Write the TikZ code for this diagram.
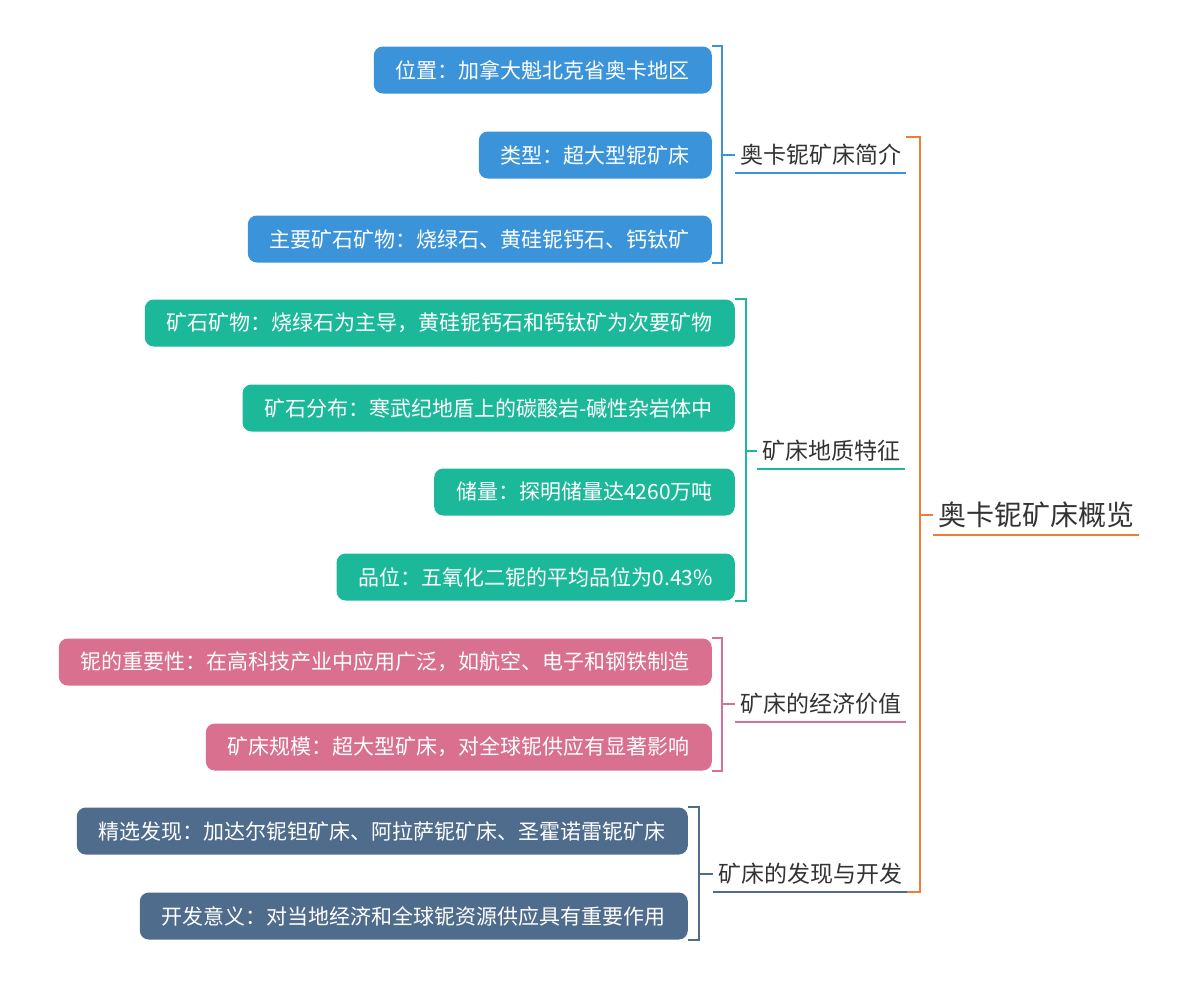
\documentclass[tikz,border=0pt]{standalone}
\usepackage{fontspec}
\setmainfont{Noto Sans CJK SC}
\usepackage{tikz}
\usetikzlibrary{positioning}

\definecolor{introblue}{HTML}{3B94DA}
\definecolor{geoteal}{HTML}{1BB99A}
\definecolor{econpink}{HTML}{D9708F}
\definecolor{devslate}{HTML}{4F6C8C}
\definecolor{rootorange}{HTML}{EC7E3A}

\begin{document}
\begin{tikzpicture}[
                x=1pt, y=-1pt,
                leaf/.style={rounded corners=9pt, text=white, anchor=east,
                    font=\fontsize{21}{24}\selectfont,
                    inner xsep=22pt, inner ysep=0pt, minimum height=47pt},
                topic/.style={text=black!80, anchor=west,
                    font=\fontsize{23}{26}\selectfont,
                    inner xsep=5pt, inner ysep=0pt, minimum height=36pt},
                brace/.style={line width=2pt}
            ]
                \useasboundingbox (0,0) rectangle (1200,986);

                \node[leaf, fill=introblue] (a1) at (712,70) {位置：加拿大魁北克省奥卡地区};
                \node[leaf, fill=introblue] (a2) at (712,155) {类型：超大型铌矿床};
                \node[leaf, fill=introblue] (a3) at (712,239) {主要矿石矿物：烧绿石、黄硅铌钙石、钙钛矿};

                \node[leaf, fill=geoteal] (b1) at (735,323) {矿石矿物：烧绿石为主导，黄硅铌钙石和钙钛矿为次要矿物};
                \node[leaf, fill=geoteal] (b2) at (735,408) {矿石分布：寒武纪地盾上的碳酸岩-碱性杂岩体中};
                \node[leaf, fill=geoteal] (b3) at (735,492) {储量：探明储量达4260万吨};
                \node[leaf, fill=geoteal] (b4) at (735,577) {品位：五氧化二铌的平均品位为0.43\%};

                \node[leaf, fill=econpink] (c1) at (712,662) {铌的重要性：在高科技产业中应用广泛，如航空、电子和钢铁制造};
                \node[leaf, fill=econpink] (c2) at (712,747) {矿床规模：超大型矿床，对全球铌供应有显著影响};

                \node[leaf, fill=devslate] (d1) at (688,831) {精选发现：加达尔铌钽矿床、阿拉萨铌矿床、圣霍诺雷铌矿床};
                \node[leaf, fill=devslate] (d2) at (688,916) {开发意义：对当地经济和全球铌资源供应具有重要作用};

                \node[topic] (intro) at (735,155) {奥卡铌矿床简介};
                \node[topic] (geo) at (757,451) {矿床地质特征};
                \node[topic] (econ) at (735,704) {矿床的经济价值};
                \node[topic] (dev) at (713,874) {矿床的发现与开发};

                \node[topic, font=\fontsize{28}{32}\selectfont, minimum height=40pt] (root) at (933,515) {奥卡铌矿床概览};

                \draw[brace, introblue] (a1.north east) -- ++(10,0) coordinate (ka) |- (a3.south east);
                \draw[brace, introblue] (ka |- intro.west) -- (intro.west);
                \draw[brace, introblue] (intro.south west) -- (intro.south east);

                \draw[brace, geoteal] (b1.north east) -- ++(11,0) coordinate (kb) |- (b4.south east);
                \draw[brace, geoteal] (kb |- geo.west) -- (geo.west);
                \draw[brace, geoteal] (geo.south west) -- (geo.south east);

                \draw[brace, econpink] (c1.north east) -- ++(10,0) coordinate (kc) |- (c2.south east);
                \draw[brace, econpink] (kc |- econ.west) -- (econ.west);
                \draw[brace, econpink] (econ.south west) -- (econ.south east);

                \draw[brace, devslate] (d1.north east) -- ++(11,0) coordinate (kd) |- (d2.south east);
                \draw[brace, devslate] (kd |- dev.west) -- (dev.west);
                \draw[brace, devslate] (dev.south west) -- (dev.south east);

                \draw[brace, rootorange] (intro.north east) -- ++(14,0) coordinate (kr) |- (dev.south east);
                \draw[brace, rootorange] (kr |- root.west) -- (root.west);
                \draw[brace, rootorange] (root.south west) -- (root.south east);
            \end{tikzpicture}
\end{document}
